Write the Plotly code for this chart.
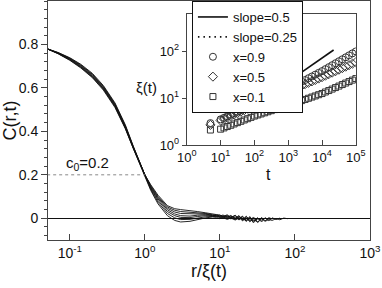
import plotly.graph_objects as go

# ---------------- main panel data: C(r,t) vs r/xi(t) ----------------
R_GRID = [0.05, 0.07, 0.1, 0.14, 0.2, 0.28, 0.4, 0.55, 0.7, 0.85, 1.0, 1.2, 1.5, 2.0, 2.5,
          3.0, 4.0, 5.0, 6.5, 8.0, 9, 10, 11, 12.5, 14, 16, 18, 20, 22.5, 25, 28, 32, 36,
          40, 45, 50, 56, 63, 71, 80]

C1 = [0.780, 0.757, 0.727, 0.692, 0.647, 0.590, 0.510, 0.412, 0.322, 0.252, 0.200, 0.128, 0.066,
      0.012, -0.010, -0.017, -0.014, -0.006, 0.002, 0.006,
      0.004, -0.002, 0.003, -0.005, 0.001, -0.008, 0.002, -0.004, -0.010, 0.001, -0.013, -0.003,
      -0.009, 0.000]
C2 = [0.780, 0.758, 0.729, 0.695, 0.650, 0.594, 0.514, 0.414, 0.323, 0.253, 0.200, 0.133, 0.074,
      0.022, 0.002, -0.006, -0.005, 0.001, 0.007, 0.008,
      0.009, 0.003, 0.007, -0.001, 0.005, -0.006, 0.004, -0.012, 0.002, -0.016, -0.004, -0.019,
      -0.002, -0.014, -0.006, -0.010, -0.001, -0.007, 0.001, -0.002]
C3 = [0.780, 0.759, 0.731, 0.697, 0.653, 0.597, 0.517, 0.417, 0.325, 0.254, 0.200, 0.138, 0.082,
      0.031, 0.012, 0.004, 0.003, 0.008, 0.012, 0.010,
      0.010, 0.008, 0.001, 0.009, -0.003, 0.006, -0.008, 0.007, -0.015, 0.004, -0.021, 0.001,
      -0.017, 0.003, -0.011, 0.002, -0.006, 0.001]
C4 = [0.780, 0.760, 0.733, 0.700, 0.656, 0.600, 0.520, 0.420, 0.327, 0.255, 0.200, 0.142, 0.089,
      0.039, 0.020, 0.012, 0.010, 0.014, 0.016, 0.012,
      0.013, 0.006, 0.011, 0.003, 0.010, -0.002, 0.011, -0.009, 0.008, -0.013, 0.006, -0.018,
      0.004, -0.012, 0.003, -0.004]
C5 = [0.780, 0.761, 0.735, 0.703, 0.660, 0.604, 0.524, 0.423, 0.329, 0.256, 0.200, 0.146, 0.095,
      0.046, 0.029, 0.022, 0.020, 0.021, 0.019, 0.014,
      0.011, 0.014, 0.006, 0.013, 0.002, 0.012, -0.005, 0.010, -0.010, 0.008, -0.013, 0.004]
C6 = [0.780, 0.762, 0.737, 0.706, 0.663, 0.607, 0.527, 0.426, 0.331, 0.257, 0.200, 0.150, 0.100,
      0.052, 0.037, 0.031, 0.028, 0.026, 0.022, 0.016,
      0.016, 0.010, 0.015, 0.005, 0.013, -0.001, 0.012, -0.007, 0.009, -0.009]
C7 = [0.780, 0.763, 0.739, 0.709, 0.667, 0.611, 0.531, 0.430, 0.333, 0.258, 0.200, 0.154, 0.106,
      0.058, 0.044, 0.040, 0.036, 0.031, 0.025, 0.018,
      0.017, 0.015, 0.008, 0.016, 0.004, 0.014, -0.002, 0.008]
CURVES = [C1, C2, C3, C4, C5, C6, C7]

C0_LEVEL = 0.2
C0_R = [0.05, 1.0]

X_TICKS = [0.1, 1, 10, 100, 1000]
X_TICK_TEXT = ["10<sup>-1</sup>", "10<sup>0</sup>", "10<sup>1</sup>", "10<sup>2</sup>", "10<sup>3</sup>"]
Y_TICKS = [0, 0.2, 0.4, 0.6, 0.8]
Y_TICK_TEXT = ["0", "0.2", "0.4", "0.6", "0.8"]

# ---------------- inset data: xi(t) vs t ----------------
T = [5, 10, 12.6, 15.8, 20, 25.1, 31.6, 39.8, 50.1, 63.1, 79.4, 100, 126, 158, 200, 251, 316,
     398, 501, 631, 794, 1000, 1259, 1585, 1995, 2512, 3162, 3981, 5012, 6310, 7943, 10000,
     12589, 15849, 19953, 25119, 31623, 39811, 50119, 63096, 79433, 100000]
XI_09 = [2.95, 3.55, 3.83, 4.13, 4.46, 4.81, 5.19, 5.60, 6.04, 6.52, 7.03, 7.59, 8.17, 8.79, 9.46,
         10.2, 11.0, 11.8, 12.7, 13.7, 14.7, 15.8, 17.3, 18.9, 20.6, 22.5, 24.5, 26.8, 29.2,
         31.9, 34.8, 38.0, 41.9, 46.1, 50.8, 56.0, 61.7, 67.9, 74.8, 82.4, 90.8, 100.0]
XI_05 = [2.70, 3.35, 3.60, 3.87, 4.16, 4.48, 4.81, 5.17, 5.56, 5.98, 6.43, 6.92, 7.43, 7.98, 8.57,
         9.20, 9.89, 10.6, 11.4, 12.2, 13.2, 14.1, 15.1, 16.2, 17.4, 18.6, 20.0, 21.4, 22.9,
         24.5, 26.3, 28.2, 30.3, 32.7, 35.2, 37.8, 40.7, 43.9, 47.2, 50.8, 54.7, 58.9]
XI_01 = [2.10, 2.19, 2.33, 2.49, 2.65, 2.83, 3.02, 3.22, 3.44, 3.66, 3.91, 4.17, 4.40, 4.63, 4.89,
         5.15, 5.43, 5.73, 6.04, 6.37, 6.71, 7.08, 7.50, 7.94, 8.41, 8.91, 9.44, 10.0, 10.6,
         11.2, 11.9, 12.6, 13.6, 14.6, 15.7, 16.9, 18.2, 19.6, 21.1, 22.7, 24.4, 26.3]

SLOPE05_T = [1400, 22000]
SLOPE05_XI = [27, 107]
SLOPE025_T = [5, 1200]
SLOPE025_XI = [5.2, 20.5]

INSET_X_TICKS = [1, 10, 100, 1000, 10000, 100000]
INSET_X_TEXT = ["10<sup>0</sup>", "10<sup>1</sup>", "10<sup>2</sup>", "10<sup>3</sup>",
                "10<sup>4</sup>", "10<sup>5</sup>"]
INSET_Y_TICKS = [1, 10, 100]
INSET_Y_TEXT = ["10<sup>0</sup>", "10<sup>1</sup>", "10<sup>2</sup>"]

FONT = "Liberation Sans, Arial, Helvetica, sans-serif"
INK = "#111111"
AX = "#444444"

fig = go.Figure()

for c in CURVES:
    fig.add_trace(go.Scatter(x=R_GRID[:len(c)], y=c, mode="lines",
                             line=dict(color=INK, width=0.9), showlegend=False,
                             hoverinfo="skip", xaxis="x", yaxis="y"))

fig.add_trace(go.Scatter(x=C0_R, y=[C0_LEVEL, C0_LEVEL], mode="lines",
                         line=dict(color="#888888", width=1, dash="dot"),
                         showlegend=False, xaxis="x", yaxis="y"))

fig.add_trace(go.Scatter(x=SLOPE05_T, y=SLOPE05_XI, mode="lines", name="slope=0.5",
                         line=dict(color=INK, width=1.6), xaxis="x2", yaxis="y2"))
fig.add_trace(go.Scatter(x=SLOPE025_T, y=SLOPE025_XI, mode="lines", name="slope=0.25",
                         line=dict(color=INK, width=1.6, dash="1.5px,4px"), xaxis="x2", yaxis="y2"))
fig.add_trace(go.Scatter(x=T, y=XI_09, mode="markers", name="x=0.9",
                         marker=dict(symbol="circle-open", size=7, color="#333333",
                                     line=dict(width=1)), xaxis="x2", yaxis="y2"))
fig.add_trace(go.Scatter(x=T, y=XI_05, mode="markers", name="x=0.5",
                         marker=dict(symbol="diamond-open", size=7, color="#333333",
                                     line=dict(width=1)), xaxis="x2", yaxis="y2"))
fig.add_trace(go.Scatter(x=T, y=XI_01, mode="markers", name="x=0.1",
                         marker=dict(symbol="square-open", size=6, color="#333333",
                                     line=dict(width=1)), xaxis="x2", yaxis="y2"))

fig.update_layout(
    width=382, height=288,
    margin=dict(l=48, r=12, t=1, b=48),
    paper_bgcolor="white", plot_bgcolor="white",
    font=dict(family=FONT, color=INK, size=14),
    xaxis=dict(type="log", range=[-1.29, 3], tickvals=X_TICKS, ticktext=X_TICK_TEXT,
               showgrid=False, zeroline=False, ticks="inside", ticklen=6,
               tickcolor=AX, showline=True, linecolor=AX, mirror=True,
               tickfont=dict(size=14), title=dict(text="r/ξ(t)", font=dict(size=18),
                                                  standoff=0)),
    yaxis=dict(range=[-0.1, 1.0], tickvals=Y_TICKS, ticktext=Y_TICK_TEXT,
               showgrid=False, zeroline=True, zerolinecolor=INK, zerolinewidth=1,
               ticks="outside", ticklen=6, tickcolor=AX, showline=True, linecolor=AX,
               mirror=True, tickfont=dict(size=14),
               minor=dict(dtick=0.04, tick0=0, ticks="outside", ticklen=3, tickcolor=AX),
               title=dict(text="C(r,t)", font=dict(size=18), standoff=4)),
    xaxis2=dict(type="log", range=[0, 5], tickvals=INSET_X_TICKS, ticktext=INSET_X_TEXT,
                domain=[0.431, 0.956], anchor="y2", showgrid=False, zeroline=False,
                ticks="inside", ticklen=5, tickcolor=AX, showline=True, linecolor=AX,
                mirror=True, tickfont=dict(size=13), tickangle=0),
    yaxis2=dict(type="log", range=[0, 2.8], tickvals=INSET_Y_TICKS, ticktext=INSET_Y_TEXT,
                domain=[0.397, 0.946], anchor="x2", showgrid=False, zeroline=False,
                ticks="outside", ticklen=4, tickcolor=AX, showline=True, linecolor=AX,
                mirror=True, tickfont=dict(size=13)),
    legend=dict(x=0.447, y=1.0, xanchor="left", yanchor="top", bgcolor="white",
                bordercolor=INK, borderwidth=1, font=dict(size=13), itemwidth=30,
                tracegroupgap=0),
    annotations=[
        dict(text="c<sub>0</sub>=0.2", xref="paper", yref="paper", x=0.123, y=0.318,
             xanchor="center", yanchor="middle", showarrow=False, font=dict(size=15)),
        dict(text="ξ(t)", xref="paper", yref="paper", x=0.307, y=0.64,
             xanchor="center", yanchor="middle", showarrow=False, font=dict(size=15)),
        dict(text="t", xref="paper", yref="paper", x=0.686, y=0.275,
             xanchor="center", yanchor="middle", showarrow=False, font=dict(size=16)),
    ],
)

fig.write_html("out.html", config={"displayModeBar": False},
               post_script="document.body.style.margin='0';document.body.style.padding='0';")
